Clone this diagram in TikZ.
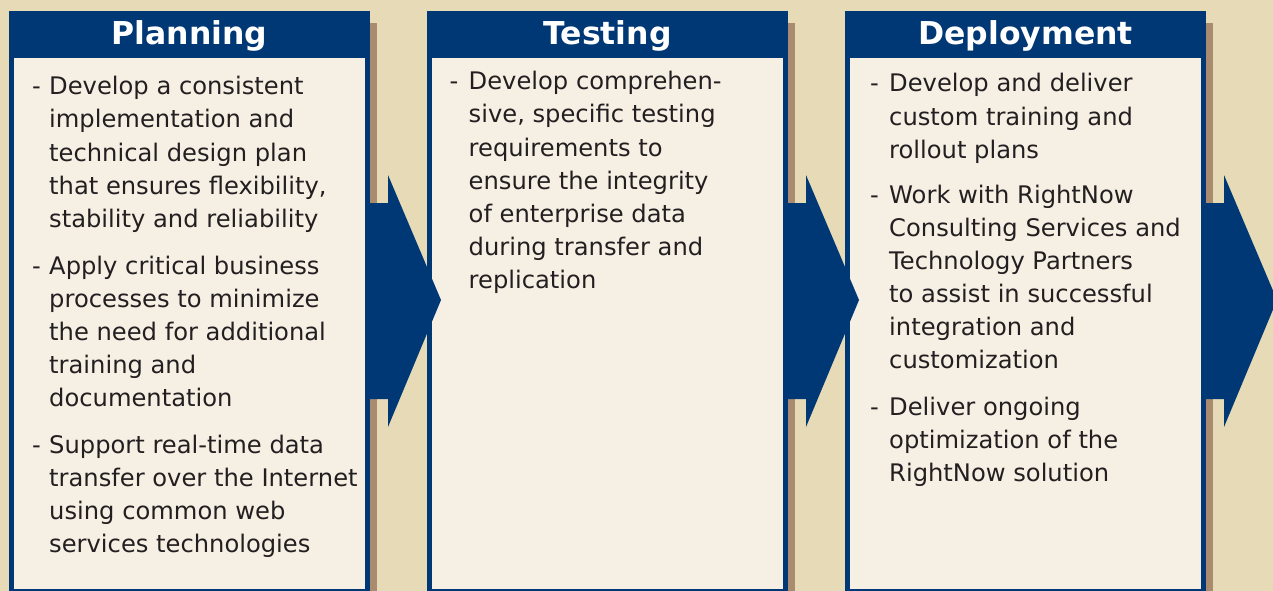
\documentclass[tikz,border=0pt]{standalone}
\usepackage{fontspec}
\setmainfont{DejaVu Sans}
\usepackage{xcolor}
\definecolor{sand}{HTML}{E6DAB7}
\definecolor{navy}{HTML}{003875}
\definecolor{paper}{HTML}{F5EFE4}
\definecolor{umber}{HTML}{A98C70}
\definecolor{ink}{HTML}{231F20}

\begin{document}
\begin{tikzpicture}[x=1pt,y=-1pt]
		\tikzset{
		    frame/.style={rectangle,fill=navy,anchor=north west,inner sep=0pt,outer sep=0pt,minimum width=361pt,minimum height=600pt},
		    body/.style={rectangle,fill=paper,anchor=north west,inner sep=0pt,outer sep=0pt,minimum width=351pt,minimum height=531pt},
		    title/.style={anchor=base,text=white,inner sep=0pt,font=\fontsize{31.5}{36}\selectfont\bfseries},
		    line/.style={anchor=base west,text=ink,inner sep=0pt,font=\fontsize{24.2}{33}\selectfont},
		    hyph/.style={line}
		}

		% background
		\fill[sand] (0,0) rectangle (1273,591);
		\clip (0,0) rectangle (1273,591);

		% panels with shadow and title bar
		\foreach \x/\name/\title in {9/plan/Planning, 427/test/Testing, 845/deploy/Deployment} {
		    \fill[umber] (\x+361,23) rectangle (\x+368,600);
		    \node[frame] (\name) at (\x,11) {};
		    \node[body] (\name body) at (\x+5,58) {};
		    \node[title] (\name title) at (\x+180.5,45) {\title};
		}

		% planning
		\node[hyph] (planA) at (32,95) {-};
		\foreach \t [count=\i from 0] in {Develop a consistent, implementation and, technical design plan, {that ensures flexibility,}, stability and reliability}
		    \node[line] (planA\i) at (49,95+33*\i) {\t};
		\node[hyph] (planB) at (32,274) {-};
		\foreach \t [count=\i from 0] in {Apply critical business, processes to minimize, the need for additional, training and, documentation}
		    \node[line] (planB\i) at (49,274+33*\i) {\t};
		\node[hyph] (planC) at (32,453) {-};
		\foreach \t [count=\i from 0] in {Support real-time data, transfer over the Internet, using common web, services technologies}
		    \node[line] (planC\i) at (49,453+33*\i) {\t};

		% testing
		\node[hyph] (testA) at (449.5,90) {-};
		\foreach \t [count=\i from 0] in {Develop comprehen-, {sive, specific testing}, requirements to, ensure the integrity, of enterprise data, during transfer and, replication}
		    \node[line] (testA\i) at (468.5,90+33*\i) {\t};

		% deployment
		\node[hyph] (deployA) at (870,92) {-};
		\foreach \t [count=\i from 0] in {Develop and deliver, custom training and, rollout plans}
		    \node[line] (deployA\i) at (889,92+33*\i) {\t};
		\node[hyph] (deployB) at (870,203) {-};
		\foreach \t [count=\i from 0] in {Work with RightNow, Consulting Services and, Technology Partners, to assist in successful, integration and, customization}
		    \node[line] (deployB\i) at (889,203+33*\i) {\t};
		\node[hyph] (deployC) at (870,415) {-};
		\foreach \t [count=\i from 0] in {Deliver ongoing, optimization of the, RightNow solution}
		    \node[line] (deployC\i) at (889,415+33*\i) {\t};

		% block arrows
		\foreach \s in {367,785,1203}
		    \fill[navy] (\s,203) -- (\s+21,203) -- (\s+21,175) -- (\s+74,300) -- (\s+21,427) -- (\s+21,399) -- (\s,399) -- cycle;

	\end{tikzpicture}
\end{document}
